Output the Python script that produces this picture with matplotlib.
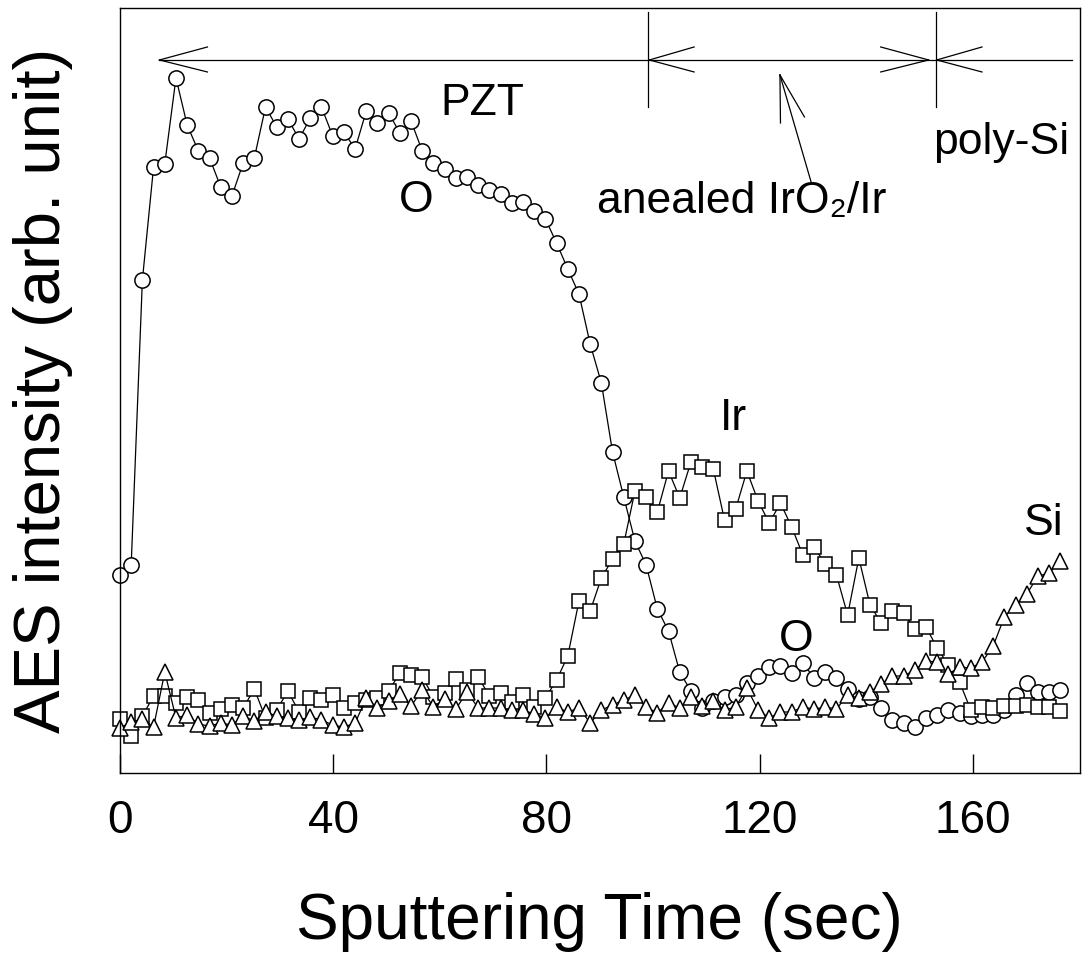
import numpy as np
import matplotlib.pyplot as plt

plt.rcParams['font.family'] = ['Liberation Sans', 'DejaVu Sans']

# sputtering time (sec), one AES scan every ~2.1 s
time = [0.0, 2.1, 4.2, 6.3, 8.4, 10.5, 12.6, 14.7, 16.8, 18.9,
        21.0, 23.1, 25.2, 27.3, 29.4, 31.5, 33.6, 35.7, 37.8, 39.9,
        42.0, 44.1, 46.2, 48.3, 50.4, 52.5, 54.6, 56.7, 58.8, 60.9,
        63.0, 65.1, 67.2, 69.3, 71.4, 73.5, 75.6, 77.7, 79.8, 81.9,
        84.0, 86.1, 88.2, 90.3, 92.4, 94.5, 96.6, 98.7, 100.8, 102.9,
        105.0, 107.1, 109.2, 111.3, 113.4, 115.5, 117.6, 119.7, 121.8, 123.9,
        126.0, 128.1, 130.2, 132.3, 134.4, 136.5, 138.6, 140.7, 142.8, 144.9,
        147.0, 149.1, 151.2, 153.3, 155.4, 157.5, 159.6, 161.7, 163.8, 165.9,
        168.0, 170.1, 172.2, 174.3, 176.4]

# AES peak intensities (arb. unit)
oxygen = [198, 208, 493, 606, 609, 695, 648, 622, 615, 586,
          577, 610, 615, 666, 646, 654, 634, 655, 666, 637,
          641, 624, 662, 650, 660, 640, 652, 622, 610, 604,
          595, 596, 588, 583, 579, 570, 571, 562, 554, 530,
          504, 479, 429, 390, 321, 276, 232, 208, 164, 142,
          101, 82, 65, 72, 76, 78, 90, 97, 106, 107,
          100, 110, 95, 101, 95, 84, 74, 76, 65, 53,
          50, 46, 55, 58, 63, 60, 57, 58, 58, 63,
          78, 90, 81, 81, 83]

iridium = [54, 37, 57, 77, 77, 70, 76, 73, 60, 64,
           68, 65, 84, 55, 63, 82, 61, 75, 73, 78,
           65, 70, 73, 75, 82, 100, 98, 96, 76, 80,
           94, 83, 96, 77, 80, 71, 78, 66, 75, 93,
           117, 172, 162, 195, 214, 229, 282, 276, 261, 302,
           275, 311, 306, 304, 253, 264, 302, 272, 250, 270,
           246, 218, 226, 209, 198, 158, 215, 168, 150, 162,
           160, 144, 146, 125, 108, 91, 63, 66, 65, 67,
           67, 68, 66, 66, 62]

silicon = [45, 51, 54, 46, 101, 55, 58, 49, 47, 50,
           48, 57, 52, 61, 57, 55, 53, 56, 53, 48,
           46, 50, 75, 65, 72, 79, 67, 83, 66, 74,
           64, 81, 65, 65, 65, 63, 63, 59, 55, 66,
           61, 65, 50, 63, 68, 73, 78, 66, 60, 70,
           65, 76, 67, 72, 63, 66, 85, 63, 55, 61,
           61, 66, 64, 66, 64, 78, 75, 81, 89, 97,
           97, 103, 112, 111, 99, 106, 105, 111, 127, 156,
           168, 179, 197, 200, 212]

x_ticks = [0, 40, 80, 120, 160]

fig = plt.figure(figsize=(10.83, 9.61), dpi=100)
ax = fig.add_axes([0.1108, 0.1956, 0.886, 0.7961])

style = dict(color='black', lw=0.9, mfc='white', mec='black', mew=1.1, clip_on=False)
ax.plot(time, oxygen, marker='o', ms=11, **style)
ax.plot(time, iridium, marker='s', ms=10, **style)
ax.plot(time, silicon, marker='^', ms=12, **style)

ax.set_xlim(0, 180)
ax.set_ylim(0, 765)
ax.set_xticks(x_ticks)
ax.set_yticks([])
ax.tick_params(axis='x', direction='in', length=13.7, width=1, labelsize=33, pad=19)
for sp in ax.spines.values():
    sp.set_linewidth(1)

ax.set_xlabel('Sputtering Time (sec)', fontsize=46)
ax.xaxis.set_label_coords(0.5, -0.155)
ax.set_ylabel('AES intensity (arb. unit)', fontsize=47)
ax.yaxis.set_label_coords(-0.049, 0.5)


def seg(x0, y0, x1, y1):
    ax.plot([x0, x1], [y0, y1], color='black', lw=0.9, clip_on=False)


# layer boundaries with open arrow heads
seg(7.4, 713, 178.6, 713)
seg(7.4, 713, 16.4, 726)
seg(7.4, 713, 16.4, 701)
seg(99.1, 666, 99.1, 761)
seg(99.3, 713, 107.7, 726)
seg(99.3, 713, 107.7, 701)
seg(151.7, 713, 142.7, 726)
seg(151.7, 713, 142.7, 701)
seg(153.0, 666, 153.0, 761)
seg(153.2, 713, 161.7, 726)
seg(153.2, 713, 161.7, 701)
# pointer from the electrode label
seg(129.7, 590, 123.8, 698)
seg(123.8, 698, 123.9, 650)
seg(123.8, 698, 128.4, 656)

fs = 32
ax.text(67.9, 658, 'PZT', fontsize=fs, ha='center', va='baseline')
ax.text(55.5, 561, 'O', fontsize=fs, ha='center', va='baseline')
ax.text(89.5, 560, 'anealed IrO\u2082/Ir', fontsize=fs, ha='left', va='baseline')
ax.text(152.5, 619, 'poly-Si', fontsize=fs, ha='left', va='baseline')
ax.text(112.5, 343, 'Ir', fontsize=fs, ha='left', va='baseline')
ax.text(169.6, 238, 'Si', fontsize=fs, ha='left', va='baseline')
ax.text(126.8, 122, 'O', fontsize=fs, ha='center', va='baseline')

fig.savefig('out.png', dpi=100)
